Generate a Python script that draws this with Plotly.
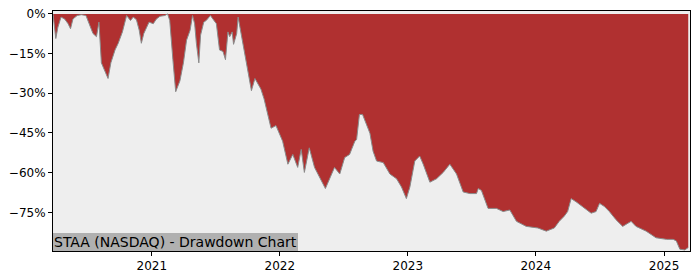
import plotly.graph_objects as go

dates = [
    "2020-03-25", "2020-03-27", "2020-04-02", "2020-04-08", "2020-04-17", "2020-04-27", "2020-05-07",
    "2020-05-14", "2020-05-21", "2020-06-02", "2020-06-14", "2020-06-27", "2020-07-03",
    "2020-07-17", "2020-07-27", "2020-08-03", "2020-08-10", "2020-08-19", "2020-08-29",
    "2020-09-06", "2020-09-18", "2020-09-27", "2020-10-09", "2020-10-21", "2020-11-01",
    "2020-11-09", "2020-11-18", "2020-11-26", "2020-12-02", "2020-12-09", "2020-12-16",
    "2020-12-24", "2021-01-05", "2021-01-14", "2021-01-24", "2021-02-07", "2021-02-15",
    "2021-02-21", "2021-03-02", "2021-03-10", "2021-03-22", "2021-04-01", "2021-04-10",
    "2021-04-20", "2021-04-27", "2021-05-03", "2021-05-08", "2021-05-15", "2021-05-20",
    "2021-05-29", "2021-06-05", "2021-06-17", "2021-06-24", "2021-07-04", "2021-07-13",
    "2021-07-23", "2021-07-30", "2021-08-06", "2021-08-11", "2021-08-18", "2021-08-22",
    "2021-08-31", "2021-09-04", "2021-09-09", "2021-09-18", "2021-09-23", "2021-10-02",
    "2021-10-12", "2021-10-22", "2021-11-08", "2021-11-17", "2021-11-27", "2021-12-07",
    "2021-12-21", "2022-01-05", "2022-01-09", "2022-01-24", "2022-02-07", "2022-02-21",
    "2022-03-03", "2022-03-12", "2022-03-26", "2022-04-10", "2022-04-24", "2022-05-11",
    "2022-05-23", "2022-06-06", "2022-06-21", "2022-07-05", "2022-07-19", "2022-08-03",
    "2022-08-08", "2022-08-16", "2022-08-25", "2022-09-05", "2022-09-15", "2022-09-24",
    "2022-10-04", "2022-10-23", "2022-11-11", "2022-11-30", "2022-12-14", "2022-12-28",
    "2023-01-07", "2023-01-21", "2023-02-04", "2023-02-14", "2023-03-05", "2023-03-24",
    "2023-04-12", "2023-05-01", "2023-05-20", "2023-06-08", "2023-06-27", "2023-07-16",
    "2023-07-21", "2023-07-30", "2023-08-18", "2023-09-11", "2023-09-30", "2023-10-19",
    "2023-11-07", "2023-12-05", "2024-01-07", "2024-01-31", "2024-02-23", "2024-03-08",
    "2024-03-22", "2024-04-01", "2024-04-11", "2024-04-25", "2024-05-14", "2024-06-07",
    "2024-06-21", "2024-07-01", "2024-07-15", "2024-07-29", "2024-08-17", "2024-09-05",
    "2024-09-29", "2024-10-13", "2024-11-11", "2024-12-09", "2025-01-08", "2025-01-27",
    "2025-02-05", "2025-02-15", "2025-03-01", "2025-03-11",
]

drawdown = [
    0.0, -2.0, -9.3, -5.0, -1.2, -1.9, -3.7,
    -5.6, -1.9, -0.6, -0.3, -0.6, -2.5,
    -7.4, -8.6, -3.1, -18.5, -21.6, -24.4,
    -18.5, -13.6, -11.1, -6.8, -0.6, -2.5,
    -1.2, -2.2, -6.2, -11.1, -7.4, -5.6,
    -3.1, -3.7, -1.9, -0.9, -0.6, 0.0,
    -2.5, -17.3, -29.4, -25.3, -18.5, -9.9,
    -6.2, -0.6, -3.7, -11.1, -18.5, -8.0,
    -3.1, -2.5, -0.6, -1.9, -3.7, -13.6,
    -14.2, -17.3, -6.8, -8.6, -6.8, -11.5,
    -7.4, -1.2, -5.0, -11.7, -14.8, -21.0,
    -29.0, -24.4, -28.4, -32.1, -38.3, -43.2,
    -42.2, -46.9, -48.1, -56.8, -53.1, -58.0,
    -51.2, -59.9, -50.6, -58.0, -61.7, -66.0,
    -62.3, -58.0, -60.5, -54.3, -53.1, -48.1,
    -47.5, -38.0, -38.0, -42.0, -45.1, -51.9,
    -55.6, -56.2, -60.5, -62.3, -65.4, -69.8,
    -65.4, -55.6, -53.7, -56.8, -63.6, -62.3,
    -59.9, -56.8, -60.5, -67.3, -67.9, -67.9,
    -66.0, -66.7, -73.5, -73.5, -74.7, -74.1,
    -78.4, -80.3, -80.9, -82.1, -80.9, -78.4,
    -76.5, -74.7, -69.8, -71.0, -72.8, -75.3,
    -74.7, -71.6, -72.8, -74.7, -77.8, -80.3,
    -78.4, -80.3, -82.1, -84.6, -85.2, -85.2,
    -85.8, -88.9, -89.2, -88.3,
]

y_tick_vals = [0, -15, -30, -45, -60, -75]
y_tick_text = ["0%", "\u221215%", "\u221230%", "\u221245%", "\u221260%", "\u221275%"]
x_tick_vals = ["2021-01-01", "2022-01-01", "2023-01-01", "2024-01-01", "2025-01-01"]
x_tick_text = ["2021", "2022", "2023", "2024", "2025"]
label_text = "STAA (NASDAQ) - Drawdown Chart"

fig = go.Figure()
fig.add_trace(go.Scatter(
    x=dates, y=drawdown, mode="lines", fill="tozeroy",
    fillcolor="#b03030", line=dict(color="#8a8a8a", width=1),
    hoverinfo="skip", showlegend=False,
))

axis_common = dict(showline=True, linecolor="black", linewidth=1, mirror=True,
                   ticks="outside", ticklen=4, tickcolor="black", showgrid=False,
                   zeroline=False, tickfont=dict(family="DejaVu Sans", size=12, color="black"))

fig.update_layout(
    width=700, height=280,
    margin=dict(l=53, r=10, t=7, b=28),
    paper_bgcolor="white", plot_bgcolor="#eeeeee",
    xaxis=dict(range=["2020-03-25", "2025-03-16"], tickvals=x_tick_vals,
               ticktext=x_tick_text, **axis_common),
    yaxis=dict(range=[-89.6, 1.1], tickvals=y_tick_vals, ticktext=y_tick_text,
               **axis_common),
    annotations=[dict(
        text=label_text, xref="paper", yref="paper", x=0, y=0,
        xanchor="left", yanchor="bottom", showarrow=False,
        font=dict(family="DejaVu Sans", size=14, color="black"),
        bgcolor="#b0b0b0", borderpad=1, borderwidth=0,
    )],
)

fig.write_html("out.html")
